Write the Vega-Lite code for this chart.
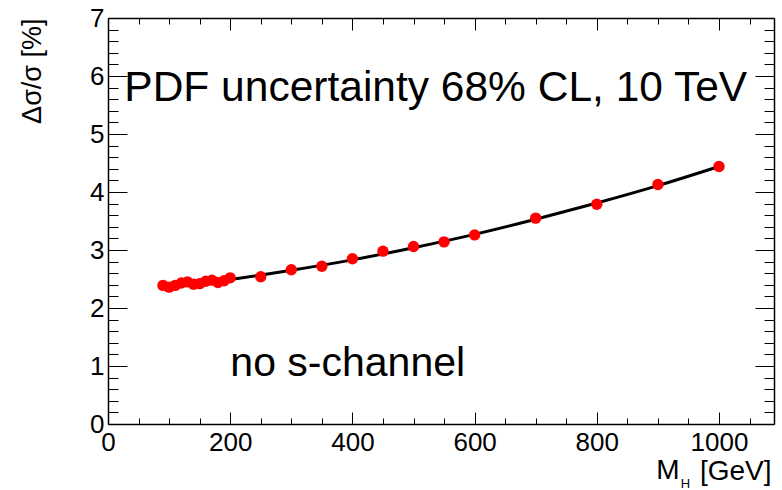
{
  "$schema": "https://vega.github.io/schema/vega-lite/v6.json",
  "autosize": {"type": "none"},
  "width": 666,
  "height": 406,
  "padding": {"left": 108, "top": 18, "right": 8, "bottom": 66},
  "background": "#ffffff",
  "config": {
    "view": {"stroke": null},
    "font": "Liberation Sans",
    "axis": {
      "domainColor": "#000000",
      "domainWidth": 1.5,
      "tickColor": "#000000",
      "tickWidth": 1,
      "grid": false,
      "labelColor": "#000000",
      "labelFont": "Liberation Sans",
      "labelFontSize": 26,
      "labelOverlap": false,
      "titleFont": "Liberation Sans",
      "titleFontWeight": "normal",
      "titleColor": "#000000"
    }
  },
  "datasets": {
    "points": [
      {"M": 90, "val": 2.39},
      {"M": 100, "val": 2.36},
      {"M": 110, "val": 2.39},
      {"M": 120, "val": 2.43},
      {"M": 130, "val": 2.45},
      {"M": 140, "val": 2.41},
      {"M": 150, "val": 2.42},
      {"M": 160, "val": 2.46},
      {"M": 170, "val": 2.48},
      {"M": 180, "val": 2.44},
      {"M": 190, "val": 2.47},
      {"M": 200, "val": 2.52},
      {"M": 250, "val": 2.54},
      {"M": 300, "val": 2.66},
      {"M": 350, "val": 2.72},
      {"M": 400, "val": 2.85},
      {"M": 450, "val": 2.98},
      {"M": 500, "val": 3.06},
      {"M": 550, "val": 3.14},
      {"M": 600, "val": 3.26},
      {"M": 700, "val": 3.55},
      {"M": 800, "val": 3.79},
      {"M": 900, "val": 4.13},
      {"M": 1000, "val": 4.44}
    ],
    "fit": [
      {"M": 95, "val": 2.36},
      {"M": 150, "val": 2.42},
      {"M": 200, "val": 2.49},
      {"M": 300, "val": 2.65},
      {"M": 400, "val": 2.83},
      {"M": 500, "val": 3.04},
      {"M": 600, "val": 3.27},
      {"M": 700, "val": 3.53},
      {"M": 800, "val": 3.81},
      {"M": 900, "val": 4.11},
      {"M": 1000, "val": 4.44}
    ],
    "title": [
      {"label": "PDF uncertainty 68% CL, 10 TeV", "lx": 26.7, "ly": 5.574}
    ],
    "note": [
      {"label": "no s-channel", "lx": 200.2, "ly": 0.834}
    ],
    "mlabel": [
      {"label": "M", "lx": 935.3, "ly": -0.943}
    ],
    "sub": [
      {"label": "H", "lx": 945.2, "ly": -1.098}
    ]
  },
  "resolve": {"axis": {"x": "independent", "y": "independent"}},
  "layer": [
    {
      "data": {"name": "fit"},
      "mark": {"type": "line", "color": "#000000", "strokeWidth": 3, "interpolate": "monotone"},
      "encoding": {
        "x": {
          "field": "M", "type": "quantitative",
          "scale": {"domain": [0, 1090], "nice": false, "zero": false},
          "axis": {
            "orient": "bottom",
            "values": [0, 50, 100, 150, 200, 250, 300, 350, 400, 450, 500, 550, 600, 650, 700, 750, 800, 850, 900, 950, 1000, 1050],
            "labelExpr": "datum.value % 200 === 0 ? format(datum.value, 'd') : ''",
            "tickSize": {"condition": {"test": "datum.value % 200 === 0", "value": -12}, "value": -6},
            "labelPadding": 17,
            "labelFlush": false,
            "title": "[GeV]",
            "titleFontSize": 28,
            "titleAnchor": "end",
            "titleAlign": "right",
            "titleBaseline": "alphabetic",
            "titleX": 663,
            "titleY": 55
          }
        },
        "y": {
          "field": "val", "type": "quantitative",
          "scale": {"domain": [0, 7], "nice": false, "zero": false},
          "axis": {
            "orient": "left",
            "values": [0, 0.2, 0.4, 0.6, 0.8, 1, 1.2, 1.4, 1.6, 1.8, 2, 2.2, 2.4, 2.6, 2.8, 3, 3.2, 3.4, 3.6, 3.8, 4, 4.2, 4.4, 4.6, 4.8, 5, 5.2, 5.4, 5.6, 5.8, 6, 6.2, 6.4, 6.6, 6.8, 7],
            "labelExpr": "datum.value % 1 === 0 ? format(datum.value, 'd') : ''",
            "tickSize": {"condition": {"test": "datum.value % 1 === 0", "value": -19}, "value": -10},
            "labelPadding": 23,
            "labelFlush": false,
            "title": "Δσ/σ [%]",
            "titleFontSize": 27,
            "titleAngle": 270,
            "titleAlign": "right",
            "titleBaseline": "alphabetic",
            "titleX": -68,
            "titleY": 0
          }
        }
      }
    },
    {
      "data": {"name": "points"},
      "mark": {"type": "circle", "color": "#ff0000", "opacity": 1, "size": 130},
      "encoding": {
        "x": {
          "field": "M", "type": "quantitative",
          "axis": {
            "orient": "top",
            "values": [0, 50, 100, 150, 200, 250, 300, 350, 400, 450, 500, 550, 600, 650, 700, 750, 800, 850, 900, 950, 1000, 1050],
            "labels": false,
            "tickSize": {"condition": {"test": "datum.value % 200 === 0", "value": -12}, "value": -6},
            "title": null
          }
        },
        "y": {
          "field": "val", "type": "quantitative",
          "axis": {
            "orient": "right",
            "values": [0, 0.2, 0.4, 0.6, 0.8, 1, 1.2, 1.4, 1.6, 1.8, 2, 2.2, 2.4, 2.6, 2.8, 3, 3.2, 3.4, 3.6, 3.8, 4, 4.2, 4.4, 4.6, 4.8, 5, 5.2, 5.4, 5.6, 5.8, 6, 6.2, 6.4, 6.6, 6.8, 7],
            "labels": false,
            "tickSize": {"condition": {"test": "datum.value % 1 === 0", "value": -19}, "value": -10},
            "title": null
          }
        }
      }
    },
    {
      "data": {"name": "title"},
      "mark": {"type": "text", "font": "Liberation Sans", "fontSize": 42.5, "align": "left", "baseline": "alphabetic", "color": "#000000"},
      "encoding": {
        "text": {"field": "label", "type": "nominal"},
        "x": {"field": "lx", "type": "quantitative", "axis": null},
        "y": {"field": "ly", "type": "quantitative", "axis": null}
      }
    },
    {
      "data": {"name": "note"},
      "mark": {"type": "text", "font": "Liberation Sans", "fontSize": 41, "align": "left", "baseline": "alphabetic", "color": "#000000"},
      "encoding": {
        "text": {"field": "label", "type": "nominal"},
        "x": {"field": "lx", "type": "quantitative", "axis": null},
        "y": {"field": "ly", "type": "quantitative", "axis": null}
      }
    },
    {
      "data": {"name": "mlabel"},
      "mark": {"type": "text", "font": "Liberation Sans", "fontSize": 28, "align": "right", "baseline": "alphabetic", "color": "#000000", "clip": false},
      "encoding": {
        "text": {"field": "label", "type": "nominal"},
        "x": {"field": "lx", "type": "quantitative", "axis": null},
        "y": {"field": "ly", "type": "quantitative", "axis": null}
      }
    },
    {
      "data": {"name": "sub"},
      "mark": {"type": "text", "font": "Liberation Sans", "fontSize": 13, "align": "center", "baseline": "alphabetic", "color": "#000000", "clip": false},
      "encoding": {
        "text": {"field": "label", "type": "nominal"},
        "x": {"field": "lx", "type": "quantitative", "axis": null},
        "y": {"field": "ly", "type": "quantitative", "axis": null}
      }
    }
  ]
}
